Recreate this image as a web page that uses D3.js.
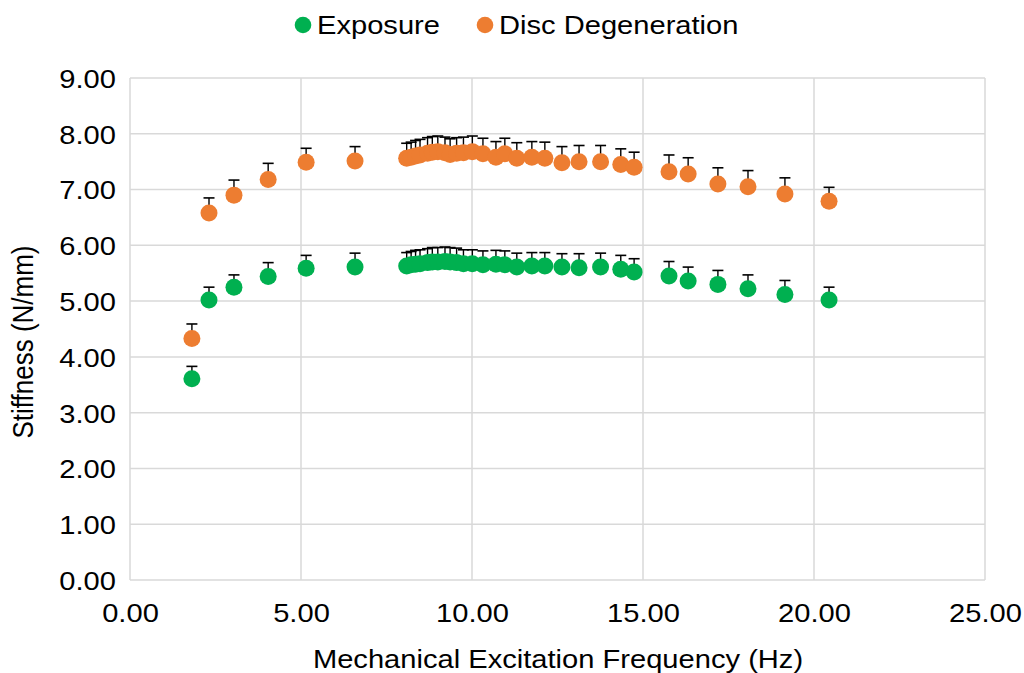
<!DOCTYPE html>
<html>
<head>
<meta charset="utf-8">
<script src="https://cdn.jsdelivr.net/npm/d3@7"></script>
<style>
  body { margin: 0; background: #fff; }
  text { font-family: "Liberation Sans", Arial, sans-serif; fill: #000; }
</style>
</head>
<body>
<div id="chart"></div>
<script>
// frequencies (Hz)
var freq = [1.81, 2.31, 3.04, 4.04, 5.15, 6.58,
    8.09, 8.22, 8.35, 8.48, 8.70, 8.84, 9.00, 9.21, 9.36, 9.55, 9.75, 10.01,
    10.32, 10.70, 10.96, 11.31, 11.75, 12.13, 12.63, 13.13, 13.76, 14.35, 14.74,
    15.76, 16.32, 17.19, 18.07, 19.15, 20.44];

var exposure = [3.61, 5.02, 5.25, 5.44, 5.59, 5.61,
    5.63, 5.65, 5.66, 5.67, 5.69, 5.70, 5.70, 5.71, 5.70, 5.69, 5.67, 5.67,
    5.65, 5.66, 5.65, 5.61, 5.63, 5.63, 5.61, 5.60, 5.61, 5.57, 5.52,
    5.45, 5.36, 5.30, 5.22, 5.12, 5.02];
var exposureErr = [0.22, 0.23, 0.22, 0.25, 0.23, 0.25,
    0.24, 0.24, 0.25, 0.25, 0.25, 0.26, 0.26, 0.26, 0.26, 0.26, 0.25, 0.25,
    0.25, 0.25, 0.25, 0.25, 0.24, 0.24, 0.24, 0.25, 0.25, 0.25, 0.24,
    0.26, 0.25, 0.25, 0.25, 0.25, 0.23];

var disc = [4.33, 6.58, 6.90, 7.18, 7.49, 7.51,
    7.56, 7.58, 7.60, 7.62, 7.65, 7.67, 7.68, 7.66, 7.63, 7.65, 7.66, 7.68,
    7.64, 7.58, 7.64, 7.56, 7.58, 7.56, 7.48, 7.50, 7.50, 7.45, 7.40,
    7.32, 7.28, 7.10, 7.05, 6.92, 6.79];
var discErr = [0.26, 0.27, 0.27, 0.29, 0.25, 0.26,
    0.27, 0.27, 0.28, 0.28, 0.28, 0.28, 0.28, 0.28, 0.28, 0.28, 0.28, 0.28,
    0.28, 0.28, 0.28, 0.28, 0.28, 0.29, 0.29, 0.29, 0.29, 0.28, 0.27,
    0.30, 0.29, 0.29, 0.29, 0.29, 0.25];

var seriesNames = ["Exposure", "Disc Degeneration"];
var seriesColors = ["#00b050", "#ed7d31"];
var xTicks = [0, 5, 10, 15, 20, 25];
var yTicks = [0, 1, 2, 3, 4, 5, 6, 7, 8, 9];

var width = 1024, height = 673;
var fontSize = 26, stretch = 1.12;   // text in the reference is a bit wide

var svg = d3.select("#chart").append("svg")
    .attr("width", width)
    .attr("height", height);

var x = d3.scaleLinear().domain([0, 25]).range([130, 985]);
var y = d3.scaleLinear().domain([0, 9]).range([580, 78]);

// gridlines
svg.append("g")
    .selectAll("line")
    .data(yTicks)
    .enter()
    .append("line")
    .attr("x1", x(0)).attr("x2", x(25))
    .attr("y1", function (d) { return y(d); })
    .attr("y2", function (d) { return y(d); })
    .attr("stroke", "#d9d9d9")
    .attr("stroke-width", 1.5);

svg.append("g")
    .selectAll("line")
    .data(xTicks)
    .enter()
    .append("line")
    .attr("y1", y(0)).attr("y2", y(9))
    .attr("x1", function (d) { return x(d); })
    .attr("x2", function (d) { return x(d); })
    .attr("stroke", "#d9d9d9")
    .attr("stroke-width", 1.5);

// axes (labels only)
var xAxis = svg.append("g")
    .attr("transform", "translate(0," + y(0) + ")")
    .call(d3.axisBottom(x).tickValues(xTicks).tickSize(0).tickPadding(0)
        .tickFormat(d3.format(".2f")));
xAxis.select(".domain").remove();
xAxis.selectAll("text")
    .attr("y", 0).attr("dy", 0)
    .attr("transform", "translate(0,42) scale(" + stretch + ",1)")
    .style("font-size", fontSize + "px")
    .style("font-family", "'Liberation Sans', Arial, sans-serif");

var yAxis = svg.append("g")
    .attr("transform", "translate(116,0)")
    .call(d3.axisLeft(y).tickValues(yTicks).tickSize(0).tickPadding(0)
        .tickFormat(d3.format(".2f")));
yAxis.select(".domain").remove();
yAxis.selectAll("text")
    .attr("x", 0)
    .attr("dy", "0.36em")
    .attr("transform", "scale(" + stretch + ",1)")
    .style("font-size", fontSize + "px")
    .style("font-family", "'Liberation Sans', Arial, sans-serif");

// axis titles
svg.append("text")
    .attr("transform", "translate(558,668) scale(" + stretch + ",1)")
    .attr("text-anchor", "middle")
    .style("font-size", fontSize + "px")
    .text("Mechanical Excitation Frequency (Hz)");

svg.append("text")
    .attr("transform", "translate(33,342) rotate(-90) scale(1," + stretch + ")")
    .attr("text-anchor", "middle")
    .style("font-size", fontSize + "px")
    .text("Stiffness (N/mm)");

// series
var series = [
    { name: seriesNames[0], color: seriesColors[0], values: exposure, errs: exposureErr },
    { name: seriesNames[1], color: seriesColors[1], values: disc, errs: discErr }
];

series.forEach(function (s) {
    var pts = freq.map(function (f, i) {
        return { f: f, v: s.values[i], e: s.errs[i] };
    });
    var g = svg.append("g");

    // plus-direction error bars
    g.selectAll("line.err")
        .data(pts)
        .enter()
        .append("line")
        .attr("class", "err")
        .attr("x1", function (d) { return x(d.f); })
        .attr("x2", function (d) { return x(d.f); })
        .attr("y1", function (d) { return y(d.v); })
        .attr("y2", function (d) { return y(d.v + d.e); })
        .attr("stroke", "#000")
        .attr("stroke-width", 1.4);
    g.selectAll("line.cap")
        .data(pts)
        .enter()
        .append("line")
        .attr("class", "cap")
        .attr("x1", function (d) { return x(d.f) - 5.5; })
        .attr("x2", function (d) { return x(d.f) + 5.5; })
        .attr("y1", function (d) { return y(d.v + d.e); })
        .attr("y2", function (d) { return y(d.v + d.e); })
        .attr("stroke", "#000")
        .attr("stroke-width", 1.6);

    g.selectAll("circle")
        .data(pts)
        .enter()
        .append("circle")
        .attr("cx", function (d) { return x(d.f); })
        .attr("cy", function (d) { return y(d.v); })
        .attr("r", 8.5)
        .attr("fill", s.color);
});

// legend
var legendX = [303, 485];
var legend = svg.append("g");
legend.selectAll("circle")
    .data(series)
    .enter()
    .append("circle")
    .attr("cx", function (d, i) { return legendX[i]; })
    .attr("cy", 25)
    .attr("r", 8.3)
    .attr("fill", function (d) { return d.color; });
legend.selectAll("text")
    .data(series)
    .enter()
    .append("text")
    .attr("transform", function (d, i) {
        return "translate(" + (legendX[i] + 14) + ",34) scale(" + stretch + ",1)";
    })
    .style("font-size", fontSize + "px")
    .text(function (d) { return d.name; });
</script>
</body>
</html>
